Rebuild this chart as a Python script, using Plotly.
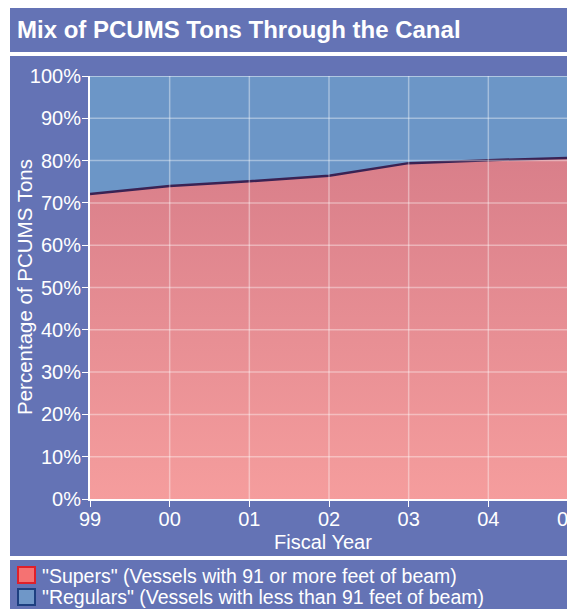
import plotly.graph_objects as go

# Fiscal years and share of PCUMS tons (%)
years = ["99", "00", "01", "02", "03", "04", "05"]
supers_pct = [72.1, 74.0, 75.1, 76.4, 79.4, 80.1, 80.6]
regulars_pct = [27.9, 26.0, 24.9, 23.6, 20.6, 19.9, 19.4]
y_ticks = [0, 10, 20, 30, 40, 50, 60, 70, 80, 90, 100]
y_labels = [f"{v}%" for v in y_ticks]

supers_name = '"Supers" (Vessels with 91 or more feet of beam)'
regulars_name = '"Regulars" (Vessels with less than 91 feet of beam)'

PANEL = "#6473b5"
FONT = "Liberation Sans, Arial, sans-serif"

# the page body has an 8px margin, so the figure is 8px smaller
OFF = 8
W, H = 575 - OFF, 609 - OFF
L, R, T, B = 90 - OFF, 7, 76 - OFF, 110
pw, ph = W - L - R, H - T - B


# page pixel -> paper coordinate
def px_x(p):
    return (p - OFF - L) / pw


def px_y(p):
    return (H - B - (p - OFF)) / ph


fig = go.Figure()

fig.add_trace(go.Scatter(
    x=years, y=supers_pct, stackgroup="one", mode="lines",
    line=dict(color="#3a2253", width=2.5),
    fillgradient=dict(type="vertical", start=0, stop=80,
                      colorscale=[[0, "#f59d9d"], [1, "#d97f8a"]]),
    showlegend=False, name=supers_name,
))
fig.add_trace(go.Scatter(
    x=years, y=regulars_pct, stackgroup="one", mode="lines",
    line=dict(color="#b8cce6", width=1),
    fillcolor="#6c96c7",
    showlegend=False, name=regulars_name,
))

shapes = [
    # title bar, main panel, legend panel
    dict(type="rect", xref="paper", yref="paper", layer="below", line_width=0,
         fillcolor=PANEL, x0=px_x(10), x1=px_x(580), y0=px_y(52), y1=px_y(0)),
    dict(type="rect", xref="paper", yref="paper", layer="below", line_width=0,
         fillcolor=PANEL, x0=px_x(10), x1=px_x(580), y0=px_y(556), y1=px_y(56)),
    dict(type="rect", xref="paper", yref="paper", layer="below", line_width=0,
         fillcolor=PANEL, x0=px_x(10), x1=px_x(580), y0=px_y(620), y1=px_y(560)),
    # legend swatches
    dict(type="rect", xref="paper", yref="paper", fillcolor="#f57272",
         line=dict(color="#e0202a", width=2),
         x0=px_x(18), x1=px_x(35), y0=px_y(583), y1=px_y(567)),
    dict(type="rect", xref="paper", yref="paper", fillcolor="#6f97c8",
         line=dict(color="#1d3f80", width=2),
         x0=px_x(18), x1=px_x(35), y0=px_y(605), y1=px_y(589)),
]
# grid drawn over the areas
for v in y_ticks[1:]:
    shapes.append(dict(type="line", xref="x", yref="y", layer="above",
                       x0=0, x1=len(years) - 1, y0=v, y1=v,
                       line=dict(color="rgba(255,255,255,0.38)", width=1.5)))
for i in range(1, len(years)):
    shapes.append(dict(type="line", xref="x", yref="y", layer="above",
                       x0=i, x1=i, y0=0, y1=100,
                       line=dict(color="rgba(255,255,255,0.38)", width=1.5)))

annotations = [
    dict(text="Fiscal Year", xref="paper", yref="paper", showarrow=False,
         x=px_x(323), y=px_y(542), xanchor="center", yanchor="middle",
         font=dict(size=20)),
    dict(text="Percentage of PCUMS Tons", xref="paper", yref="paper",
         showarrow=False, textangle=-90,
         x=px_x(24), y=px_y(287), xanchor="center", yanchor="middle",
         font=dict(size=20.5)),
    dict(text=supers_name, xref="paper", yref="paper", showarrow=False,
         x=px_x(40), y=px_y(576), xanchor="left", yanchor="middle",
         font=dict(size=19.5)),
    dict(text=regulars_name, xref="paper", yref="paper", showarrow=False,
         x=px_x(40), y=px_y(597), xanchor="left", yanchor="middle",
         font=dict(size=19.5)),
]

fig.update_layout(
    width=W, height=H,
    margin=dict(l=L, r=R, t=T, b=B, autoexpand=False),
    paper_bgcolor="white",
    plot_bgcolor=PANEL,
    font=dict(family=FONT, color="white", size=20),
    title=dict(text="<b>Mix of PCUMS Tons Through the Canal</b>",
               font=dict(size=24, color="white", family=FONT),
               x=(17 - OFF) / W, xref="container", xanchor="left",
               y=1 - (30 - OFF) / H, yref="container", yanchor="middle"),
    shapes=shapes,
    annotations=annotations,
    showlegend=False,
    xaxis=dict(range=[0, len(years) - 1], showgrid=False, zeroline=False,
               showline=True, linecolor="white", linewidth=2,
               ticks="outside", tickcolor="white", ticklen=6, tickwidth=1,
               tickfont=dict(size=20), automargin=False,
               ticklabelstandoff=-5),
    yaxis=dict(range=[0, 100], tickvals=y_ticks, ticktext=y_labels,
               showgrid=False, zeroline=False,
               showline=True, linecolor="white", linewidth=2,
               ticks="outside", tickcolor="white", ticklen=6, tickwidth=1,
               tickfont=dict(size=20), automargin=False,
               ticklabelstandoff=-3),
)

fig.write_html("out.html")
